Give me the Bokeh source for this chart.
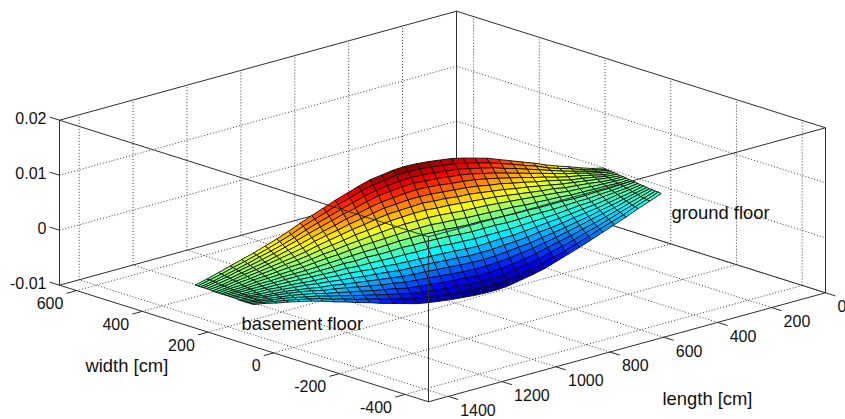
from bokeh.core.properties import value
from bokeh.embed import file_html
from bokeh.plotting import figure
from bokeh.resources import INLINE

# Axis limits and ticks
LENGTH_LIM = [0, 1473]
WIDTH_LIM = [-471, 652]
Z_LIM = [-0.01, 0.02]
LENGTH_TICKS = [0, 200, 400, 600, 800, 1000, 1200, 1400]
WIDTH_TICKS = [600, 400, 200, 0, -200, -400]
Z_TICKS = [-0.01, 0, 0.01, 0.02]
Z_TICK_LABELS = ["-0.01", "0", "0.01", "0.02"]

# Mesh node positions [cm]
LENGTH_NODES = [-21, 22, 65, 109, 152, 195, 238, 282, 325, 368, 411, 455, 498, 541, 584, 628, 671, 714,
                757, 801, 844, 887, 930, 974, 1017, 1060, 1103, 1147, 1190, 1233, 1276, 1320, 1363, 1406, 1449, 1493]
WIDTH_NODES = [46, 55, 64, 73, 82, 90, 99, 108, 117, 126, 135, 143, 152, 161, 170, 179, 188, 197, 205, 214, 223]

# Surface height, in units of 1e-4, one row per length node, one column per width node
Z_TABLE = [
    [-20,-19,-19,-18,-18,-17,-16,-16,-15,-14,-14,-13,-12,-11,-11,-10,-9,-9,-8,-8,-7],
    [-28,-27,-26,-25,-23,-22,-21,-19,-18,-16,-15,-14,-12,-11,-9,-8,-7,-5,-4,-3,-2],
    [-36,-34,-33,-31,-29,-27,-25,-22,-20,-18,-16,-13,-11,-9,-6,-4,-2,0,2,3,5],
    [-45,-43,-40,-38,-35,-32,-29,-26,-22,-19,-16,-13,-10,-6,-3,0,3,6,8,11,13],
    [-53,-50,-47,-44,-40,-36,-33,-29,-25,-21,-17,-12,-8,-4,0,3,7,11,14,17,20],
    [-61,-57,-54,-50,-45,-41,-36,-31,-26,-21,-17,-12,-7,-2,3,8,12,17,21,24,28],
    [-69,-65,-60,-55,-50,-45,-39,-34,-28,-22,-16,-10,-4,2,7,13,18,23,28,33,37],
    [-77,-72,-67,-61,-55,-49,-43,-36,-30,-23,-16,-9,-2,4,11,17,23,29,35,40,45],
    [-84,-79,-73,-66,-60,-53,-46,-38,-31,-23,-16,-8,0,7,15,22,29,35,42,48,53],
    [-91,-85,-78,-71,-64,-56,-48,-40,-32,-23,-15,-7,2,10,18,26,34,41,48,55,61],
    [-98,-91,-84,-76,-68,-60,-51,-42,-33,-24,-15,-5,4,13,22,31,39,47,55,62,69],
    [-103,-96,-88,-80,-71,-62,-53,-44,-34,-24,-14,-4,6,16,25,34,44,52,60,68,75],
    [-107,-99,-91,-83,-74,-64,-54,-44,-34,-23,-13,-3,8,18,28,38,48,57,65,73,81],
    [-111,-103,-95,-86,-76,-66,-56,-45,-34,-23,-12,-2,9,20,31,41,51,61,70,78,86],
    [-113,-105,-96,-87,-77,-67,-56,-46,-34,-23,-12,-1,10,22,32,43,53,63,72,81,89],
    [-113,-105,-96,-87,-77,-66,-56,-45,-33,-22,-11,1,12,24,35,45,56,66,75,84,92],
    [-112,-104,-95,-85,-76,-65,-54,-43,-32,-20,-9,2,14,25,36,47,58,67,77,86,94],
    [-110,-102,-93,-84,-74,-63,-53,-42,-30,-19,-8,4,15,27,38,48,59,69,78,87,95],
    [-108,-100,-91,-82,-72,-62,-51,-41,-29,-18,-7,4,15,27,37,48,58,68,77,86,94],
    [-105,-97,-89,-80,-70,-60,-50,-40,-29,-18,-7,4,15,26,36,46,56,66,75,83,91],
    [-102,-94,-86,-77,-68,-59,-49,-39,-28,-17,-7,3,14,25,35,45,54,64,72,80,88],
    [-98,-91,-83,-75,-66,-57,-48,-38,-28,-18,-8,2,12,22,32,41,50,59,67,75,82],
    [-92,-85,-78,-70,-62,-54,-45,-36,-27,-18,-9,1,10,19,28,37,45,53,61,68,75],
    [-86,-80,-73,-66,-59,-51,-43,-35,-26,-17,-9,0,8,17,25,33,41,48,55,62,68],
    [-80,-74,-68,-62,-55,-48,-41,-33,-26,-18,-10,-2,6,13,21,28,35,42,48,54,60],
    [-73,-68,-63,-57,-51,-45,-38,-31,-24,-17,-11,-4,3,10,17,24,30,36,42,47,52],
    [-67,-63,-58,-53,-47,-42,-36,-30,-24,-18,-12,-5,1,7,13,19,24,30,35,40,44],
    [-60,-56,-52,-48,-43,-38,-33,-28,-23,-18,-13,-7,-2,3,8,13,18,23,27,31,35],
    [-54,-51,-47,-44,-40,-36,-31,-27,-22,-18,-14,-9,-5,0,4,9,13,17,20,24,27],
    [-47,-44,-41,-38,-35,-32,-28,-25,-21,-17,-14,-10,-6,-2,1,5,8,11,14,17,20],
    [-41,-39,-37,-34,-31,-29,-26,-23,-20,-17,-14,-11,-8,-5,-2,1,3,6,9,11,13],
    [-36,-34,-32,-30,-28,-26,-24,-22,-19,-17,-15,-12,-10,-7,-5,-3,-1,1,3,5,7],
    [-31,-30,-28,-27,-25,-24,-22,-20,-19,-17,-15,-13,-11,-10,-8,-6,-5,-3,-2,0,1],
    [-27,-26,-25,-24,-23,-22,-21,-20,-18,-17,-16,-15,-14,-12,-11,-10,-9,-8,-7,-6,-5],
    [-22,-22,-21,-21,-20,-19,-19,-18,-18,-17,-17,-16,-15,-15,-14,-14,-13,-12,-12,-11,-11],
    [-18,-18,-18,-18,-18,-18,-17,-17,-17,-17,-17,-17,-17,-17,-17,-16,-16,-16,-16,-16,-16],
]

TEXT_FONT = value("Liberation Sans")
TICK_SIZE = value("16px")
LABEL_SIZE = value("18.4px")
BOX_COLOR = "#2e2e2e"
GRID_COLOR = "#3c3c3c"
MESH_COLOR = "#0c0c0c"


def project(length, width, z):
    """Fixed axonometric view of (length, width, z) on the drawing plane."""
    u = (length - LENGTH_LIM[0]) / (LENGTH_LIM[1] - LENGTH_LIM[0])
    v = (width - WIDTH_LIM[0]) / (WIDTH_LIM[1] - WIDTH_LIM[0])
    t = (z - Z_LIM[0]) / (Z_LIM[1] - Z_LIM[0])
    return 825 - 397 * u - 369 * v, 292.3 + 109 * u - 116.6 * v - 165 * t


def segment(a, b):
    xa, ya = project(*a)
    xb, yb = project(*b)
    return [xa, xb], [ya, yb]


def jet(t):
    clip = lambda c: max(0.0, min(1.0, c))
    r = clip(min(4 * t - 1.5, -4 * t + 4.5))
    g = clip(min(4 * t - 0.5, -4 * t + 3.5))
    b = clip(min(4 * t + 0.5, -4 * t + 2.5))
    return "#%02x%02x%02x" % (int(r * 255), int(g * 255), int(b * 255))


p = figure(width=845, height=419, x_range=(0, 845), y_range=(419, 0), toolbar_location=None,
           output_backend="svg", min_border=0, outline_line_color=None, background_fill_color="white")
p.axis.visible = False
p.grid.visible = False
p.styles = {"position": "absolute", "left": "0px", "top": "0px"}

L0, L1 = LENGTH_LIM
W0, W1 = WIDTH_LIM
Z0, Z1 = Z_LIM

# Dotted grid on the two back walls and the floor
grid = []
for z in Z_TICKS[1:-1]:
    grid.append(segment((L1, W1, z), (L0, W1, z)))
    grid.append(segment((L0, W1, z), (L0, W0, z)))
for l in LENGTH_TICKS:
    grid.append(segment((l, W1, Z0), (l, W1, Z1)))
    grid.append(segment((l, W0, Z0), (l, W1, Z0)))
for w in WIDTH_TICKS:
    grid.append(segment((L0, w, Z0), (L0, w, Z1)))
    grid.append(segment((L0, w, Z0), (L1, w, Z0)))
p.multi_line([g[0] for g in grid], [g[1] for g in grid], line_color=GRID_COLOR, line_width=1, line_dash="1 2")

# Box edges behind the surface
back = [
    segment((L1, W1, Z0), (L1, W1, Z1)),
    segment((L0, W1, Z0), (L0, W1, Z1)),
    segment((L0, W0, Z0), (L0, W0, Z1)),
    segment((L1, W1, Z1), (L0, W1, Z1)),
    segment((L0, W1, Z1), (L0, W0, Z1)),
    segment((L1, W1, Z0), (L0, W1, Z0)),
    segment((L0, W1, Z0), (L0, W0, Z0)),
    segment((L1, W1, Z0), (L1, W0, Z0)),
    segment((L1, W0, Z0), (L0, W0, Z0)),
]
p.multi_line([g[0] for g in back], [g[1] for g in back], line_color=BOX_COLOR, line_width=1)

# Surface: far cells first
flat = [c for row in Z_TABLE for c in row]
zmin, zmax = min(flat), max(flat)
xs, ys, fills = [], [], []
for i in range(len(LENGTH_NODES) - 1):
    for j in range(len(WIDTH_NODES) - 2, -1, -1):
        corners = [(i, j), (i + 1, j), (i + 1, j + 1), (i, j + 1)]
        pts = [project(LENGTH_NODES[a], WIDTH_NODES[b], Z_TABLE[a][b] * 1e-4) for a, b in corners]
        xs.append([q[0] for q in pts])
        ys.append([q[1] for q in pts])
        mean = sum(Z_TABLE[a][b] for a, b in corners) / 4
        fills.append(jet((mean - zmin) / (zmax - zmin)))
p.patches(xs, ys, fill_color=fills, line_color=MESH_COLOR, line_width=0.9)

# Box edges in front of the surface, and ticks
front = [
    segment((L1, W0, Z0), (L1, W0, Z1)),
    segment((L1, W1, Z1), (L1, W0, Z1)),
    segment((L1, W0, Z1), (L0, W0, Z1)),
]
for z in Z_TICKS:
    front.append(segment((L1, W1, z), (L1, W1 + 30, z)))
for l in LENGTH_TICKS:
    front.append(segment((l, W0, Z0), (l, W0 - 30, Z0)))
for w in WIDTH_TICKS:
    front.append(segment((L1, w, Z0), (L1 + 37, w, Z0)))
p.multi_line([g[0] for g in front], [g[1] for g in front], line_color=BOX_COLOR, line_width=1)

# Tick labels
zx = [project(L1, W1, z)[0] - 13 for z in Z_TICKS]
zy = [project(L1, W1, z)[1] - 2 for z in Z_TICKS]
p.text(zx, zy, text=Z_TICK_LABELS, text_align="right", text_baseline="middle",
       text_font=TEXT_FONT, text_font_size=TICK_SIZE, text_color="#111111")

wx = [project(L1, w, Z0)[0] - 13.2 for w in WIDTH_TICKS]
wy = [project(L1, w, Z0)[1] + 12.4 for w in WIDTH_TICKS]
p.text(wx, wy, text=[str(w) for w in WIDTH_TICKS], text_align="right", text_baseline="middle",
       text_font=TEXT_FONT, text_font_size=TICK_SIZE, text_color="#111111")

lx = [project(l, W0, Z0)[0] + 12 for l in LENGTH_TICKS]
ly = [project(l, W0, Z0)[1] + 13.4 for l in LENGTH_TICKS]
p.text(lx, ly, text=[str(l) for l in LENGTH_TICKS], text_align="left", text_baseline="middle",
       text_font=TEXT_FONT, text_font_size=TICK_SIZE, text_color="#111111")

# Axis titles and notes
NOTES = ["width [cm]", "length [cm]", "basement floor", "ground floor"]
NOTE_X = [85, 662, 241, 671]
NOTE_Y = [365, 398, 323, 212]
p.text(NOTE_X, NOTE_Y, text=NOTES, text_align="left", text_baseline="middle",
       text_font=TEXT_FONT, text_font_size=LABEL_SIZE, text_color="#111111")

open("out.html", "w").write(file_html(p, INLINE))
